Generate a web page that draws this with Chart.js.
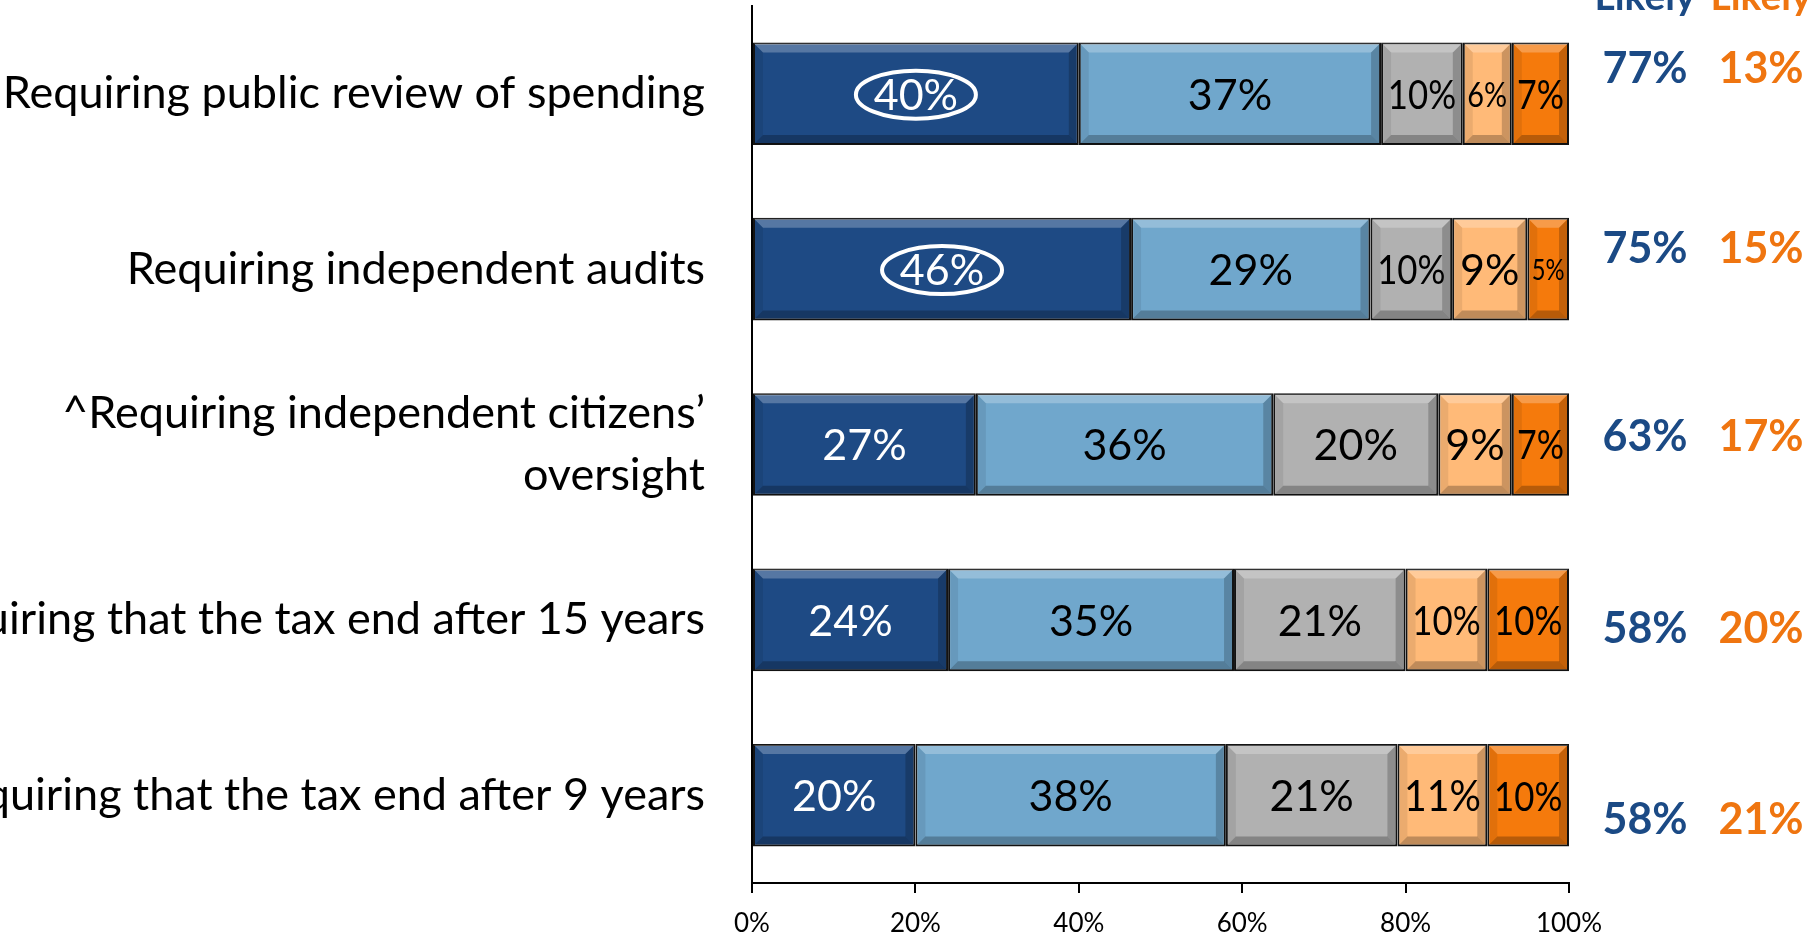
<!DOCTYPE html>
<html>
<head>
<meta charset="utf-8">
<title>Accountability measures</title>
<script src="https://cdn.jsdelivr.net/npm/chart.js@4/dist/chart.umd.min.js"></script>
<style>
  html, body { margin: 0; padding: 0; background: #fff; }
  #wrap { width: 1808px; height: 936px; overflow: hidden; }
</style>
</head>
<body>
<div id="wrap"><canvas id="chartMeasures" width="1808" height="936"></canvas></div>
<script>
// categories, top to bottom
var categories = [
  "Requiring public review of spending",
  "Requiring independent audits",
  ["^Requiring independent citizens\u2019", "oversight"],
  "Requiring that the tax end after 15 years",
  "Requiring that the tax end after 9 years"
];

// segment shares (%)
var muchMoreLikely = [40, 46.4, 27.4, 24, 20];
var somewhatMoreLikely = [37, 29.3, 36.4, 35, 38];
var noDifference = [10, 10, 20.2, 21, 21];
var somewhatLessLikely = [6, 9.2, 9, 10, 11];
var muchLessLikely = [7, 5.1, 7, 10, 10];

// totals printed to the right
var totalLikely = [77, 75, 63, 58, 58];
var totalLessLikely = [13, 15, 17, 20, 21];

var xTicks = [0, 20, 40, 60, 80, 100];

// which dark-blue labels get a ring
var circled = [true, true, false, false, false];

(function () {
  "use strict";

  var colors = {
    dark: "#1e4a84",
    light: "#70a7cc",
    grey: "#b1b1b1",
    peach: "#ffba78",
    orange: "#f57a0c",
    netBlue: "#1b4a85",
    netOrange: "#ef7510"
  };

  var fontFamily = "Lato, 'Open Sans', sans-serif";

  // bevel look of the original bars
  var bevelPlugin = {
    id: "bevel",
    afterDatasetsDraw: function (chart) {
      var ctx = chart.ctx;
      chart.data.datasets.forEach(function (ds, di) {
        var meta = chart.getDatasetMeta(di);
        meta.data.forEach(function (bar) {
          var x1 = Math.min(bar.x, bar.base) + 1;
          var x2 = Math.max(bar.x, bar.base) - 1;
          var y1 = bar.y - bar.height / 2 + 1;
          var y2 = bar.y + bar.height / 2 - 1;
          var b = Math.min(9, (x2 - x1) / 3);
          ctx.save();
          // top
          ctx.fillStyle = "rgba(255,255,255,0.25)";
          ctx.beginPath();
          ctx.moveTo(x1, y1); ctx.lineTo(x2, y1);
          ctx.lineTo(x2 - b, y1 + b); ctx.lineTo(x1 + b, y1 + b);
          ctx.closePath(); ctx.fill();
          // bottom
          ctx.fillStyle = "rgba(0,0,0,0.25)";
          ctx.beginPath();
          ctx.moveTo(x1, y2); ctx.lineTo(x2, y2);
          ctx.lineTo(x2 - b, y2 - b); ctx.lineTo(x1 + b, y2 - b);
          ctx.closePath(); ctx.fill();
          // left
          ctx.fillStyle = "rgba(0,0,0,0.08)";
          ctx.beginPath();
          ctx.moveTo(x1, y1); ctx.lineTo(x1 + b, y1 + b);
          ctx.lineTo(x1 + b, y2 - b); ctx.lineTo(x1, y2);
          ctx.closePath(); ctx.fill();
          // right
          ctx.fillStyle = "rgba(0,0,0,0.2)";
          ctx.beginPath();
          ctx.moveTo(x2, y1); ctx.lineTo(x2 - b, y1 + b);
          ctx.lineTo(x2 - b, y2 - b); ctx.lineTo(x2, y2);
          ctx.closePath(); ctx.fill();
          ctx.restore();
        });
      });
    }
  };

  // value labels inside the segments, plus the white rings
  var labelPlugin = {
    id: "segLabels",
    afterDatasetsDraw: function (chart) {
      var ctx = chart.ctx;
      ctx.save();
      ctx.textAlign = "center";
      ctx.textBaseline = "middle";
      chart.data.datasets.forEach(function (ds, di) {
        var meta = chart.getDatasetMeta(di);
        meta.data.forEach(function (bar, i) {
          var txt = Math.round(ds.data[i]) + "%";
          var w = Math.abs(bar.x - bar.base);
          var room = w * 0.9 - 4;
          var size = 43;
          var squeeze = 1;
          ctx.font = size + "px " + fontFamily;
          var tw = ctx.measureText(txt).width;
          if (tw > room) {
            // narrow it first (the original face is condensed), then shrink
            squeeze = Math.max(0.85, room / tw);
            if (tw * squeeze > room) {
              size = Math.floor(size * room / (tw * squeeze));
              ctx.font = size + "px " + fontFamily;
            }
          }
          var cx = (bar.x + bar.base) / 2;
          ctx.fillStyle = di === 0 ? "#fff" : "#000";
          ctx.save();
          ctx.translate(cx, bar.y + 2);
          ctx.scale(squeeze, 1);
          ctx.fillText(txt, 0, 0);
          ctx.restore();
          if (di === 0 && circled[i]) {
            ctx.strokeStyle = "#fff";
            ctx.lineWidth = 4;
            ctx.beginPath();
            ctx.ellipse(cx, bar.y + 1, 60, 24, 0, 0, Math.PI * 2);
            ctx.stroke();
          }
        });
      });
      ctx.restore();
    }
  };

  // "Likely" totals on the right side
  var totalsPlugin = {
    id: "totals",
    afterDraw: function (chart) {
      var ctx = chart.ctx;
      var yScale = chart.scales.y;
      var right = chart.chartArea.right;
      var nudge = [-25, -20, -7, 9, 25];
      ctx.save();
      ctx.textAlign = "center";
      ctx.font = "bold 43px " + fontFamily;
      ctx.textBaseline = "middle";
      totalLikely.forEach(function (v, i) {
        var y = yScale.getPixelForValue(i) + nudge[i];
        ctx.fillStyle = colors.netBlue;
        ctx.fillText(v + "%", right + 76, y);
        ctx.fillStyle = colors.netOrange;
        ctx.fillText(totalLessLikely[i] + "%", right + 192, y);
      });
      ctx.font = "bold 39px " + fontFamily;
      ctx.textBaseline = "alphabetic";
      ctx.fillStyle = colors.netBlue;
      ctx.fillText("Likely", right + 76, 10);
      ctx.fillStyle = colors.netOrange;
      ctx.fillText("Likely", right + 192, 10);
      ctx.restore();
    }
  };

  function makeSet(label, data, color) {
    return {
      label: label,
      data: data,
      backgroundColor: color,
      borderColor: "#141414",
      borderWidth: 2,
      borderSkipped: false,
      barPercentage: 0.585,
      categoryPercentage: 1
    };
  }

  function initMeasuresChart() {
    var el = document.getElementById("chartMeasures");
    if (!el || typeof Chart === "undefined") return;

    new Chart(el, {
      type: "bar",
      data: {
        labels: categories,
        datasets: [
          makeSet("Much more likely", muchMoreLikely, colors.dark),
          makeSet("Somewhat more likely", somewhatMoreLikely, colors.light),
          makeSet("No difference", noDifference, colors.grey),
          makeSet("Somewhat less likely", somewhatLessLikely, colors.peach),
          makeSet("Much less likely", muchLessLikely, colors.orange)
        ]
      },
      options: {
        indexAxis: "y",
        responsive: false,
        devicePixelRatio: 1,
        animation: false,
        layout: { padding: { left: 0, right: 239, top: 6, bottom: 0 } },
        plugins: {
          legend: { display: false },
          tooltip: { enabled: false }
        },
        scales: {
          x: {
            stacked: true,
            min: 0,
            max: 100,
            afterBuildTicks: function (scale) {
              scale.ticks = xTicks.map(function (v) { return { value: v }; });
            },
            afterFit: function (scale) {
              scale.height = 53;
              scale.paddingLeft = 0;
              scale.paddingRight = 0;
            },
            grid: {
              display: true,
              drawOnChartArea: false,
              drawTicks: true,
              tickLength: 10,
              color: "#000",
              lineWidth: 2
            },
            border: { display: true, color: "#000", width: 2 },
            ticks: {
              color: "#000",
              padding: 15,
              font: { family: fontFamily, size: 26 },
              maxRotation: 0,
              callback: function (v) { return v + "%"; }
            }
          },
          y: {
            stacked: true,
            afterFit: function (scale) {
              scale.width = 752;
              scale.paddingTop = 0;
              scale.paddingBottom = 0;
            },
            grid: { display: false, drawTicks: false },
            border: { display: true, color: "#000", width: 2 },
            ticks: {
              color: "#000",
              padding: 47,
              autoSkip: false,
              font: { family: fontFamily, size: 45, lineHeight: 1.38 }
            }
          }
        }
      },
      plugins: [bevelPlugin, labelPlugin, totalsPlugin]
    });
  }

  document.addEventListener("DOMContentLoaded", initMeasuresChart);
})();
</script>
</body>
</html>
